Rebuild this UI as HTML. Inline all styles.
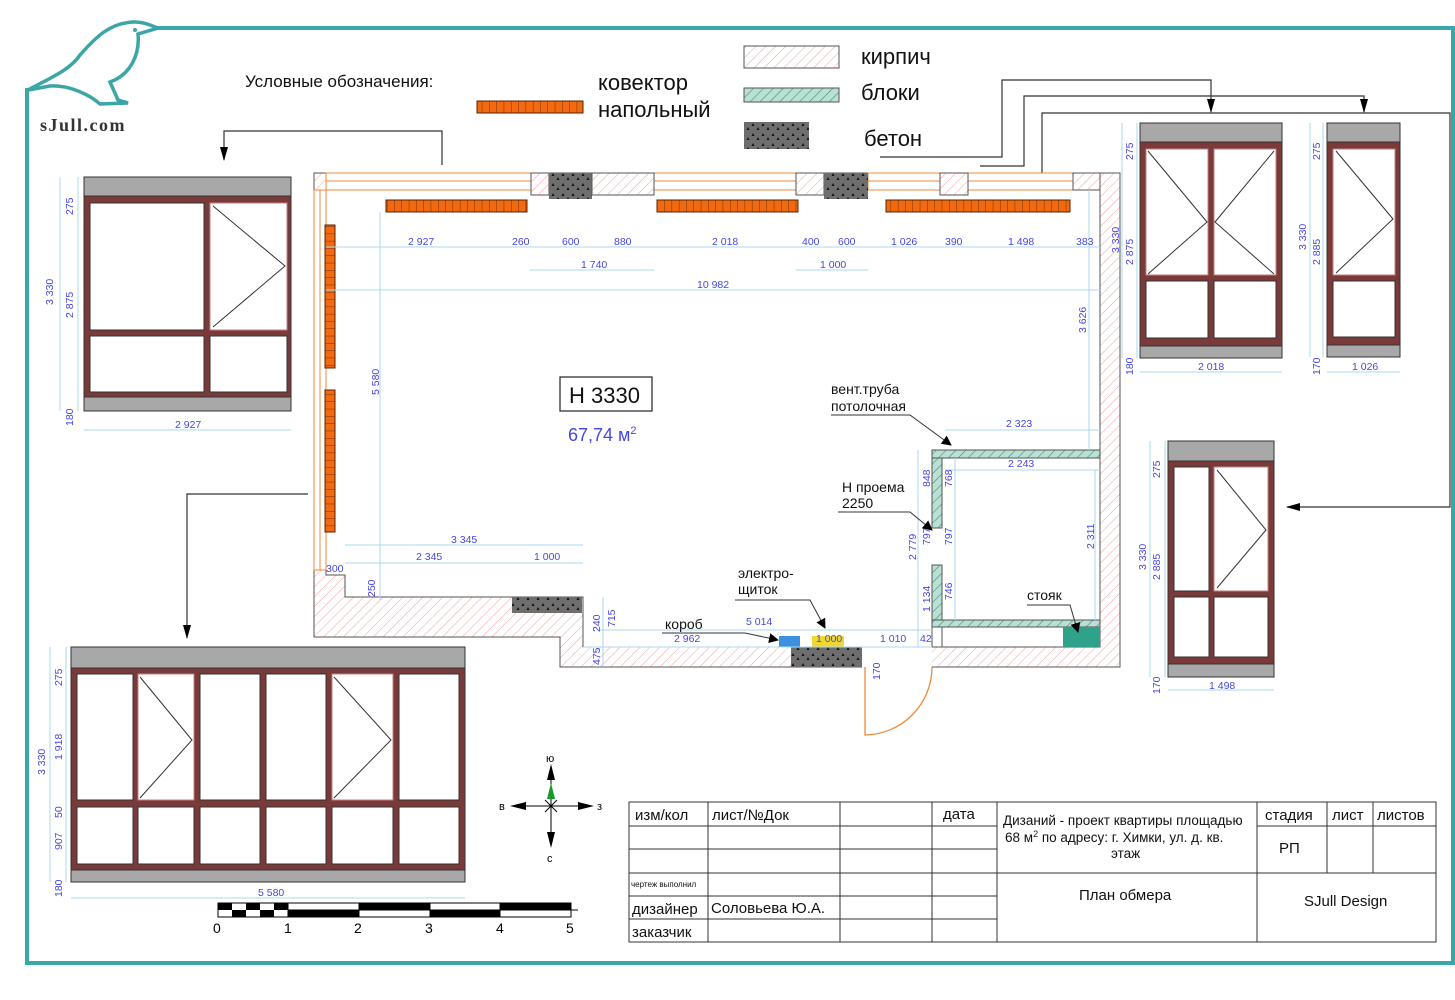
<!DOCTYPE html>
<html><head><meta charset="utf-8"><style>
html,body{margin:0;padding:0;background:#fff}
svg{display:block}
text{font-family:"Liberation Sans","DejaVu Sans",sans-serif}
.d{fill:#4646e6;font-size:10.5px}
.dl{stroke:#a9d9f2;stroke-width:1;fill:none}
.t{font-size:15px;fill:#111}
</style></head><body>
<svg width="1455" height="1000" viewBox="0 0 1455 1000" xmlns="http://www.w3.org/2000/svg">
<defs>
<pattern id="brick" width="7" height="7" patternUnits="userSpaceOnUse" patternTransform="rotate(45)">
<rect width="7" height="7" fill="#fff"/><line x1="0" y1="0" x2="0" y2="7" stroke="#f0a0a0" stroke-width="1"/></pattern>
<pattern id="block" width="7" height="7" patternUnits="userSpaceOnUse" patternTransform="rotate(45)">
<rect width="7" height="7" fill="#b8e0d4"/><line x1="0" y1="0" x2="0" y2="7" stroke="#4a8a7a" stroke-width="1.2"/></pattern>
<pattern id="conc" width="10" height="10" patternUnits="userSpaceOnUse">
<rect width="10" height="10" fill="#6e6e6e"/><path d="M3 3l1.5 3h-3zM8 7l1.5 3h-3z" fill="#111"/></pattern>
<pattern id="conv" width="7.3" height="12" patternUnits="userSpaceOnUse">
<rect width="7.3" height="12" fill="#f26a10"/><line x1="0" y1="0" x2="0" y2="12" stroke="#5a2000" stroke-width="0.8"/></pattern>
<pattern id="convv" width="12" height="7.3" patternUnits="userSpaceOnUse">
<rect width="12" height="7.3" fill="#f26a10"/><line x1="0" y1="0" x2="12" y2="0" stroke="#5a2000" stroke-width="0.8"/></pattern>
<marker id="ar" markerWidth="10" markerHeight="10" refX="9" refY="5" orient="auto" markerUnits="userSpaceOnUse"><path d="M0 0L10 5L0 10z" fill="#000"/></marker>
<marker id="ar2" markerWidth="14" markerHeight="10" refX="13" refY="5" orient="auto" markerUnits="userSpaceOnUse"><path d="M0 1L14 5L0 9z" fill="#000"/></marker>
</defs>

<path d="M155 28H1453V963H27V88" fill="none" stroke="#3aa6a6" stroke-width="4"/>
<path d="M28 90 C50 78 70 70 80 55 C95 38 110 22 135 22 C145 22 152 26 158 28 L138 34 C140 55 130 75 110 82 L118 100 L128 103 L100 104 C90 95 70 85 50 86 Z" fill="none" stroke="#3aa6a6" stroke-width="3.5"/>
<circle cx="135" cy="30" r="2" fill="#3aa6a6"/>
<text x="40" y="131" style="font-family:'Liberation Serif',serif;font-weight:bold;font-size:18px;letter-spacing:1.5px" fill="#333">sJull.com</text>

<text x="245" y="87" style="font-size:17px" fill="#111">Условные обозначения:</text>
<rect x="477" y="101" width="106" height="12" fill="url(#conv)" stroke="#5a2000"/>
<text x="598" y="90" style="font-size:22px" fill="#111">ковектор</text>
<text x="598" y="117" style="font-size:22px" fill="#111">напольный</text>
<rect x="744" y="46" width="95" height="22" fill="url(#brick)" stroke="#555"/>
<rect x="744" y="88" width="95" height="14" fill="url(#block)" stroke="#555"/>
<rect x="744" y="122" width="65" height="27" fill="url(#conc)"/>
<text x="861" y="64" style="font-size:22px" fill="#111">кирпич</text>
<text x="861" y="100" style="font-size:22px" fill="#111">блоки</text>
<text x="864" y="146" style="font-size:22px" fill="#111">бетон</text>

<g stroke="#333" stroke-width="1.2" fill="none">
<path d="M442 165V131H224V160" marker-end="url(#ar2)"/>
<path d="M308 494H187V638" marker-end="url(#ar2)"/>
<path d="M880 157H1002V80H1211V112" marker-end="url(#ar2)"/>
<path d="M980 166H1024V96H1364V112" marker-end="url(#ar2)"/>
<path d="M1042 173V113H1450V507H1287" marker-end="url(#ar2)"/>
</g>

<path d="M314 173H1120V667H560V637H314Z M326 190V575H345V597H583V647H1100V190Z" fill="url(#brick)" fill-rule="evenodd" stroke="#555" stroke-width="1"/>
<g fill="#fff" stroke="#f08a3a" stroke-width="1">
<rect x="326" y="173" width="205" height="17"/>
<rect x="654" y="173" width="142" height="17"/>
<rect x="868" y="173" width="72" height="17"/>
<rect x="968" y="173" width="105" height="17"/>
<rect x="314" y="190" width="12" height="380"/>
</g>
<g stroke="#f08a3a" stroke-width="1">
<line x1="326" y1="181" x2="531" y2="181"/><line x1="654" y1="181" x2="796" y2="181"/><line x1="868" y1="181" x2="940" y2="181"/><line x1="968" y1="181" x2="1073" y2="181"/><line x1="320" y1="190" x2="320" y2="570"/>
</g>
<rect x="531" y="173" width="18" height="22" fill="url(#brick)" stroke="#555"/>
<rect x="549" y="173" width="43" height="26" fill="url(#conc)"/>
<rect x="592" y="173" width="62" height="22" fill="url(#brick)" stroke="#555"/>
<rect x="796" y="173" width="28" height="22" fill="url(#brick)" stroke="#555"/>
<rect x="824" y="173" width="44" height="26" fill="url(#conc)"/>
<rect x="940" y="173" width="28" height="22" fill="url(#brick)" stroke="#555"/>
<rect x="1073" y="173" width="27" height="17" fill="url(#brick)" stroke="#555"/>
<rect x="512" y="597" width="70" height="16" fill="url(#conc)"/>
<rect x="791" y="647" width="71" height="20" fill="url(#conc)"/>
<rect x="862" y="647" width="70" height="21" fill="#fff"/>
<path d="M865 667V735A68 68 0 0 0 932 667" fill="none" stroke="#f08a3a" stroke-width="1.3"/>
<rect x="386" y="200" width="141" height="12" fill="url(#conv)" stroke="#5a2000"/>
<rect x="657" y="200" width="141" height="12" fill="url(#conv)" stroke="#5a2000"/>
<rect x="886" y="200" width="184" height="12" fill="url(#conv)" stroke="#5a2000"/>
<rect x="325" y="225" width="10" height="143" fill="url(#convv)" stroke="#5a2000"/>
<rect x="325" y="390" width="10" height="142" fill="url(#convv)" stroke="#5a2000"/>
<rect x="932" y="450" width="168" height="8" fill="url(#block)" stroke="#555"/>
<rect x="932" y="620" width="168" height="7" fill="url(#block)" stroke="#555"/>
<rect x="932" y="458" width="10" height="70" fill="url(#block)" stroke="#555"/>
<rect x="932" y="565" width="10" height="55" fill="url(#block)" stroke="#555"/>
<rect x="932" y="627" width="10" height="20" fill="#fff" stroke="#555"/>
<rect x="1063" y="627" width="37" height="20" fill="#2fa38a"/>
<rect x="779" y="636" width="21" height="11" fill="#3d8fe0"/>
<rect x="812" y="636" width="32" height="11" fill="#f0d830"/>

<g class="dl">
<line x1="326" y1="247" x2="1100" y2="247"/>
<line x1="530" y1="270" x2="654" y2="270"/><line x1="796" y1="270" x2="868" y2="270"/>
<line x1="326" y1="290" x2="1100" y2="290"/>
<line x1="380" y1="212" x2="380" y2="600"/>
<line x1="1089" y1="190" x2="1089" y2="450"/>
<line x1="945" y1="430" x2="1100" y2="430"/><line x1="945" y1="470" x2="1100" y2="470"/>
<line x1="1095" y1="470" x2="1095" y2="620"/>
<line x1="918" y1="450" x2="918" y2="647"/><line x1="955" y1="458" x2="955" y2="620"/>
<line x1="345" y1="545" x2="583" y2="545"/><line x1="345" y1="563" x2="583" y2="563"/>
<line x1="600" y1="630" x2="932" y2="630"/><line x1="583" y1="647" x2="932" y2="647"/>
<line x1="603" y1="597" x2="603" y2="667"/>
<line x1="84" y1="430" x2="291" y2="430"/><line x1="88" y1="324" x2="205" y2="324"/><line x1="210" y1="387" x2="290" y2="387"/>
<line x1="60" y1="177" x2="60" y2="411"/><line x1="78" y1="177" x2="78" y2="411"/>
<line x1="1140" y1="372" x2="1282" y2="372"/><line x1="1122" y1="123" x2="1122" y2="358"/><line x1="1137" y1="123" x2="1137" y2="358"/>
<line x1="1327" y1="372" x2="1400" y2="372"/><line x1="1310" y1="123" x2="1310" y2="357"/><line x1="1323" y1="123" x2="1323" y2="357"/>
<line x1="1168" y1="690" x2="1274" y2="690"/><line x1="1150" y1="441" x2="1150" y2="677"/><line x1="1165" y1="441" x2="1165" y2="677"/>
<line x1="71" y1="898" x2="465" y2="898"/><line x1="50" y1="647" x2="50" y2="882"/><line x1="66" y1="647" x2="66" y2="882"/>
</g>
<g class="d">
<text x="408" y="245">2 927</text><text x="512" y="245">260</text><text x="562" y="245">600</text><text x="614" y="245">880</text>
<text x="712" y="245">2 018</text><text x="802" y="245">400</text><text x="838" y="245">600</text><text x="891" y="245">1 026</text>
<text x="945" y="245">390</text><text x="1008" y="245">1 498</text><text x="1076" y="245">383</text>
<text x="581" y="268">1 740</text><text x="820" y="268">1 000</text><text x="697" y="288">10 982</text>
<text x="1006" y="427">2 323</text><text x="1008" y="467">2 243</text>
<text x="451" y="543">3 345</text><text x="416" y="560">2 345</text><text x="534" y="560">1 000</text>
<text x="326" y="572">300</text><text x="746" y="625">5 014</text><text x="674" y="642">2 962</text>
<text x="816" y="642">1 000</text><text x="880" y="642">1 010</text><text x="920" y="642">42</text>
<text x="135" y="322">1 685</text><text x="237" y="385">1 092</text><text x="175" y="428">2 927</text>
<text x="1198" y="370">2 018</text><text x="1352" y="370">1 026</text><text x="1209" y="689">1 498</text><text x="1183" y="589">500</text>
<text x="258" y="896">5 580</text><text x="96" y="800">830</text>
<g transform="rotate(-90)">
<text x="-395" y="379">5 580</text><text x="-333" y="1086">3 626</text><text x="-253" y="1119">3 330</text>
<text x="-549" y="1094">2 311</text><text x="-560" y="916">2 779</text><text x="-487" y="930">848</text><text x="-487" y="952">768</text>
<text x="-545" y="930">797</text><text x="-545" y="952">797</text><text x="-612" y="930">1 134</text><text x="-600" y="952">746</text>
<text x="-597" y="375">250</text><text x="-632" y="600">240</text><text x="-627" y="615">715</text><text x="-665" y="600">475</text><text x="-680" y="880">170</text>
<text x="-305" y="53">3 330</text><text x="-318" y="73">2 875</text><text x="-215" y="73">275</text><text x="-426" y="73">180</text><text x="-372" y="192">827</text>
<text x="-160" y="1133">275</text><text x="-265" y="1133">2 875</text><text x="-375" y="1133">180</text>
<text x="-160" y="1320">275</text><text x="-265" y="1320">2 885</text><text x="-250" y="1306">3 330</text><text x="-375" y="1320">170</text>
<text x="-478" y="1160">275</text><text x="-580" y="1160">2 885</text><text x="-570" y="1146">3 330</text><text x="-694" y="1160">170</text>
<text x="-686" y="62">275</text><text x="-760" y="62">1 918</text><text x="-775" y="45">3 330</text><text x="-818" y="62">50</text><text x="-850" y="62">907</text><text x="-897" y="62">180</text>
</g>
</g>

<rect x="560" y="377" width="92" height="34" fill="#fff" stroke="#222" stroke-width="1.2"/>
<text x="569" y="403" style="font-size:22px" fill="#111">H 3330</text>
<text x="568" y="441" style="font-size:18px" fill="#4646e6">67,74 м<tspan dy="-7" font-size="11">2</tspan></text>

<text x="831" y="394" class="t" style="font-size:14px">вент.труба</text>
<text x="831" y="411" class="t" style="font-size:14px">потолочная</text>
<path d="M831 415H910L951 445" stroke="#333" fill="none" marker-end="url(#ar)"/>
<text x="842" y="492" class="t" style="font-size:14px">Н проема</text>
<text x="842" y="508" class="t" style="font-size:14px">2250</text>
<path d="M838 512H910L932 530" stroke="#333" fill="none" marker-end="url(#ar)"/>
<text x="738" y="578" class="t" style="font-size:14px">электро-</text>
<text x="738" y="594" class="t" style="font-size:14px">щиток</text>
<path d="M735 600H810L825 628" stroke="#333" fill="none" marker-end="url(#ar)"/>
<text x="665" y="629" class="t" style="font-size:14px">короб</text>
<path d="M662 633H745L778 640" stroke="#333" fill="none" marker-end="url(#ar)"/>
<text x="1027" y="600" class="t" style="font-size:14px">стояк</text>
<path d="M1027 605H1070L1078 632" stroke="#333" fill="none" marker-end="url(#ar)"/>

<g stroke="#333" stroke-width="1">
<rect x="84" y="177" width="207" height="19" fill="#a8a8a8"/>
<rect x="84" y="196" width="207" height="201" fill="#7b3a3a"/>
<rect x="84" y="397" width="207" height="14" fill="#a8a8a8"/>
<rect x="90" y="203" width="114" height="127" fill="#fff"/>
<rect x="210" y="203" width="77" height="127" fill="#fff" stroke="#c08080"/>
<rect x="90" y="336" width="114" height="56" fill="#fff"/>
<rect x="210" y="336" width="77" height="56" fill="#fff"/>
<path d="M213 206L285 266L213 327" fill="none"/>
<rect x="1140" y="123" width="142" height="19" fill="#a8a8a8"/>
<rect x="1140" y="142" width="142" height="204" fill="#7b3a3a"/>
<rect x="1140" y="346" width="142" height="12" fill="#a8a8a8"/>
<rect x="1146" y="149" width="62" height="126" fill="#fff" stroke="#c08080"/>
<rect x="1214" y="149" width="62" height="126" fill="#fff" stroke="#c08080"/>
<rect x="1146" y="281" width="62" height="57" fill="#fff"/>
<rect x="1214" y="281" width="62" height="57" fill="#fff"/>
<path d="M1148 151L1207 222L1148 274M1274 151L1215 222L1274 274" fill="none"/>
<rect x="1327" y="123" width="73" height="19" fill="#a8a8a8"/>
<rect x="1327" y="142" width="73" height="203" fill="#7b3a3a"/>
<rect x="1327" y="345" width="73" height="12" fill="#a8a8a8"/>
<rect x="1333" y="149" width="62" height="126" fill="#fff" stroke="#c08080"/>
<rect x="1333" y="281" width="62" height="56" fill="#fff"/>
<path d="M1336 151L1393 219L1336 273" fill="none"/>
<rect x="1168" y="441" width="106" height="20" fill="#a8a8a8"/>
<rect x="1168" y="461" width="106" height="203" fill="#7b3a3a"/>
<rect x="1168" y="664" width="106" height="13" fill="#a8a8a8"/>
<rect x="1174" y="467" width="35" height="124" fill="#fff"/>
<rect x="1214" y="467" width="54" height="124" fill="#fff" stroke="#c08080"/>
<rect x="1174" y="597" width="35" height="60" fill="#fff"/>
<rect x="1214" y="597" width="54" height="60" fill="#fff"/>
<path d="M1217 470L1266 530L1217 588" fill="none"/>
<rect x="71" y="647" width="394" height="21" fill="#a8a8a8"/>
<rect x="71" y="668" width="394" height="202" fill="#7b3a3a"/>
<rect x="71" y="870" width="394" height="12" fill="#a8a8a8"/>
<rect x="77" y="674" width="56" height="126" fill="#fff"/>
<rect x="138" y="674" width="56" height="126" fill="#fff" stroke="#c08080"/>
<rect x="200" y="674" width="60" height="126" fill="#fff"/>
<rect x="266" y="674" width="60" height="126" fill="#fff"/>
<rect x="332" y="674" width="61" height="126" fill="#fff" stroke="#c08080"/>
<rect x="399" y="674" width="60" height="126" fill="#fff"/>
<path d="M140 677L192 740L140 798M334 677L391 740L334 798" fill="none"/>
<rect x="77" y="807" width="56" height="57" fill="#fff"/>
<rect x="138" y="807" width="56" height="57" fill="#fff"/>
<rect x="200" y="807" width="60" height="57" fill="#fff"/>
<rect x="266" y="807" width="60" height="57" fill="#fff"/>
<rect x="332" y="807" width="61" height="57" fill="#fff"/>
<rect x="399" y="807" width="60" height="57" fill="#fff"/>
</g>

<g stroke="#000" stroke-width="1">
<line x1="551" y1="770" x2="551" y2="840" /><line x1="512" y1="806" x2="592" y2="806"/>
<line x1="545" y1="800" x2="557" y2="812"/><line x1="557" y1="800" x2="545" y2="812"/>
</g>
<path d="M551 764l-4 16h8z M551 848l-4 -16h8z M510 806l16 -4v8z M594 806l-16 -4v8z" fill="#000"/>
<path d="M551 783l-4 16h8z" fill="#1a9a2a"/>
<text x="546" y="762" style="font-size:11px">ю</text><text x="547" y="862" style="font-size:11px">с</text>
<text x="499" y="810" style="font-size:11px">в</text><text x="597" y="810" style="font-size:11px">з</text>

<line x1="218" y1="910" x2="578" y2="910" stroke="#000"/>
<g stroke="#000" stroke-width="1">
<rect x="218" y="903" width="70" height="14" fill="#fff"/>
<rect x="288" y="903" width="71" height="7" fill="#fff"/><rect x="288" y="910" width="71" height="7" fill="#000"/>
<rect x="359" y="903" width="71" height="7" fill="#000"/><rect x="359" y="910" width="71" height="7" fill="#fff"/>
<rect x="430" y="903" width="70" height="7" fill="#fff"/><rect x="430" y="910" width="70" height="7" fill="#000"/>
<rect x="500" y="903" width="71" height="7" fill="#000"/><rect x="500" y="910" width="71" height="7" fill="#fff"/>
</g>
<path d="M218 903h14v7h-14zM246 903h14v7h-14zM274 903h14v7h-14zM232 910h14v7h-14zM260 910h14v7h-14z" fill="#000"/>
<g style="font-size:14px"><text x="213" y="933">0</text><text x="284" y="933">1</text><text x="354" y="933">2</text><text x="425" y="933">3</text><text x="496" y="933">4</text><text x="566" y="933">5</text></g>

<g stroke="#333" stroke-width="1" fill="none">
<rect x="629" y="802" width="807" height="140"/>
<path d="M629 826H997M629 849H997M629 873H1436M629 896H997M629 919H997M1257 826H1436"/>
<path d="M708 802V942M840 802V942M932 802V942M997 802V942M1257 802V942M1327 802V873M1373 802V873"/>
</g>
<g style="font-size:15px" fill="#111">
<text x="635" y="820">изм/кол</text><text x="712" y="820">лист/№Док</text><text x="943" y="819">дата</text>
<text x="1003" y="825" style="font-size:13.5px">Дизаний - проект квартиры площадью</text>
<text x="1005" y="842" style="font-size:13.5px">68 м<tspan dy="-5" font-size="9">2</tspan><tspan dy="5"> по адресу: г. Химки, ул.  д.  кв.</tspan></text>
<text x="1111" y="858" style="font-size:13.5px">этаж</text>
<text x="1265" y="820">стадия</text><text x="1332" y="820">лист</text><text x="1377" y="820">листов</text>
<text x="1279" y="853">РП</text>
<text x="631" y="887" style="font-size:8px">чертеж выполнил</text>
<text x="632" y="914">дизайнер</text><text x="711" y="913">Соловьева Ю.А.</text>
<text x="632" y="937">заказчик</text>
<text x="1079" y="900">План обмера</text><text x="1304" y="906">SJull Design</text>
</g>
</svg>
</body></html>
